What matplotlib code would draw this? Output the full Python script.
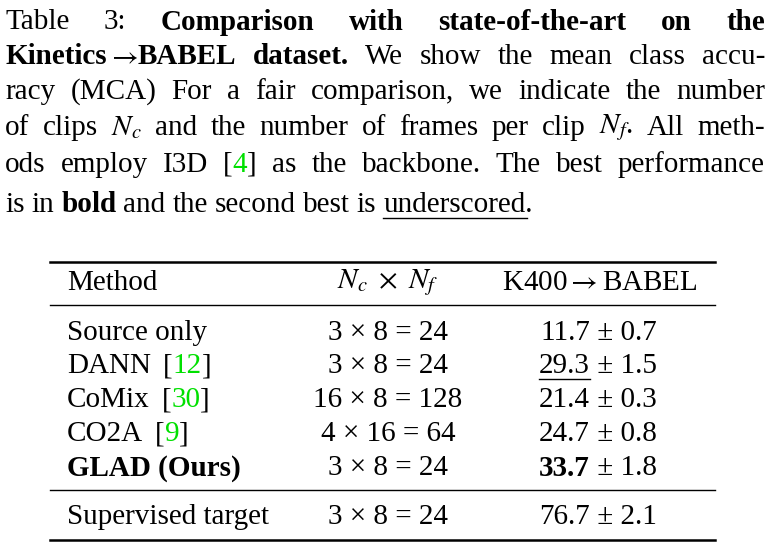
import matplotlib
matplotlib.use("Agg")
import matplotlib.pyplot as plt

plt.rcParams['font.family'] = ['Liberation Serif', 'DejaVu Serif']
plt.rcParams['mathtext.fontset'] = 'stix'

GREEN = '#00e000'
FS = 21
ARROW = r"$\rightarrow$"

# caption lines: list of words; each word is a list of (text, bold, colour) pieces
def w(t, b=False, c='black'):
    return [(t, b, c)]

caption_lines = [
    (22, [w("Table"), w("3:"), w("Comparison", True), w("with", True), w("state-of-the-art", True),
          w("on", True), w("the", True)], True),
    (57, [[("Kinetics", True, 'black'), (ARROW, True, 'black'), ("BABEL", True, 'black')],
          w("dataset.", True), w("We"), w("show"), w("the"), w("mean"), w("class"), w("accu-")], True),
    (92, [w("racy"), w("(MCA)"), w("For"), w("a"), w("fair"), w("comparison,"), w("we"), w("indicate"),
          w("the"), w("number")], True),
    (128, [w("of"), w("clips"), w("$N_c$"), w("and"), w("the"), w("number"), w("of"), w("frames"),
           w("per"), w("clip"), w("$N_f$."), w("All"), w("meth-")], True),
    (165, [w("ods"), w("employ"), w("I3D"), [("[", False, 'black'), ("4", False, GREEN), ("]", False, 'black')],
           w("as"), w("the"), w("backbone."), w("The"), w("best"), w("performance")], True),
    (205, [w("is"), w("in"), w("bold", True), w("and"), w("the"), w("second"), w("best"), w("is"),
           w("underscored.")], False),
]

methods = ["Source only", "DANN", "CoMix", "CO2A", "GLAD (Ours)"]
method_refs = ["", "12", "30", "9", ""]
clips = ["3 \u00d7 8 = 24", "3 \u00d7 8 = 24", "16 \u00d7 8 = 128", "4 \u00d7 16 = 64", "3 \u00d7 8 = 24"]
mca = ["11.7", "29.3", "21.4", "24.7", "33.7"]
mca_std = ["0.7", "1.5", "0.3", "0.8", "1.8"]
supervised = ("Supervised target", "3 \u00d7 8 = 24", "76.7", "2.1")
best_idx, second_idx = 4, 1

fig = plt.figure(figsize=(7.76, 5.52), dpi=100)
ax = fig.add_axes([0, 0, 1, 1])
ax.set_xlim(0, 776)
ax.set_ylim(552, 0)
ax.axis('off')
fig.canvas.draw()
r = fig.canvas.get_renderer()

def width(t):
    return t.get_window_extent(r).width

def measure(s, b):
    t = ax.text(0, 0, s, fontsize=FS, fontweight='bold' if b else 'normal')
    wd = width(t)
    t.remove()
    return wd

LEFT, RIGHT = 5, 765
for y, words, justify in caption_lines:
    widths = [sum(measure(s, b) for s, b, c in word) for word in words]
    gap = (RIGHT - LEFT - sum(widths)) / (len(words) - 1) if justify else 7
    x = LEFT
    for word, wd in zip(words, widths):
        xx = x
        for s, b, c in word:
            t = ax.text(xx, y, s, fontsize=FS, fontweight='bold' if b else 'normal', va='center', color=c)
            xx += width(t)
        if word[0][0] == "underscored.":
            ax.plot([x, x + wd - 6], [y + 13, y + 13], color='black', lw=1)
        x += wd + gap

# table rules
for yy, lw in [(262, 1.8), (305, 1.0), (490, 1.0), (540, 1.8)]:
    ax.plot([50, 715], [yy, yy], color='black', lw=lw)

ax.text(67, 283, "Method", fontsize=FS, va='center')
ax.text(388, 283, r"$N_c\ \times\ N_f$", fontsize=FS, va='center', ha='center')
ax.text(600, 283, "K400" + ARROW + "BABEL", fontsize=FS, va='center', ha='center')

row_y = [333, 366, 400, 434, 468]
for i, y in enumerate(row_y):
    bold = 'bold' if i == best_idx else 'normal'
    t = ax.text(67, y, methods[i], fontsize=FS, va='center', fontweight=bold)
    if method_refs[i]:
        x0 = 67 + width(t) + 12
        tb = ax.text(x0, y, "[", fontsize=FS, va='center')
        tn = ax.text(x0 + width(tb), y, method_refs[i], fontsize=FS, va='center', color=GREEN)
        ax.text(x0 + width(tb) + width(tn), y, "]", fontsize=FS, va='center')
    ax.text(388, y, clips[i], fontsize=FS, va='center', ha='center')
    tv = ax.text(590, y, mca[i], fontsize=FS, va='center', ha='right', fontweight=bold)
    ax.text(590, y, " \u00b1 " + mca_std[i], fontsize=FS, va='center', ha='left')
    if i == second_idx:
        ax.plot([590 - width(tv), 590], [y + 13, y + 13], color='black', lw=1)

y = 517
ax.text(67, y, supervised[0], fontsize=FS, va='center')
ax.text(388, y, supervised[1], fontsize=FS, va='center', ha='center')
ax.text(590, y, supervised[2], fontsize=FS, va='center', ha='right')
ax.text(590, y, " \u00b1 " + supervised[3], fontsize=FS, va='center', ha='left')

fig.savefig("out.png", dpi=100)
